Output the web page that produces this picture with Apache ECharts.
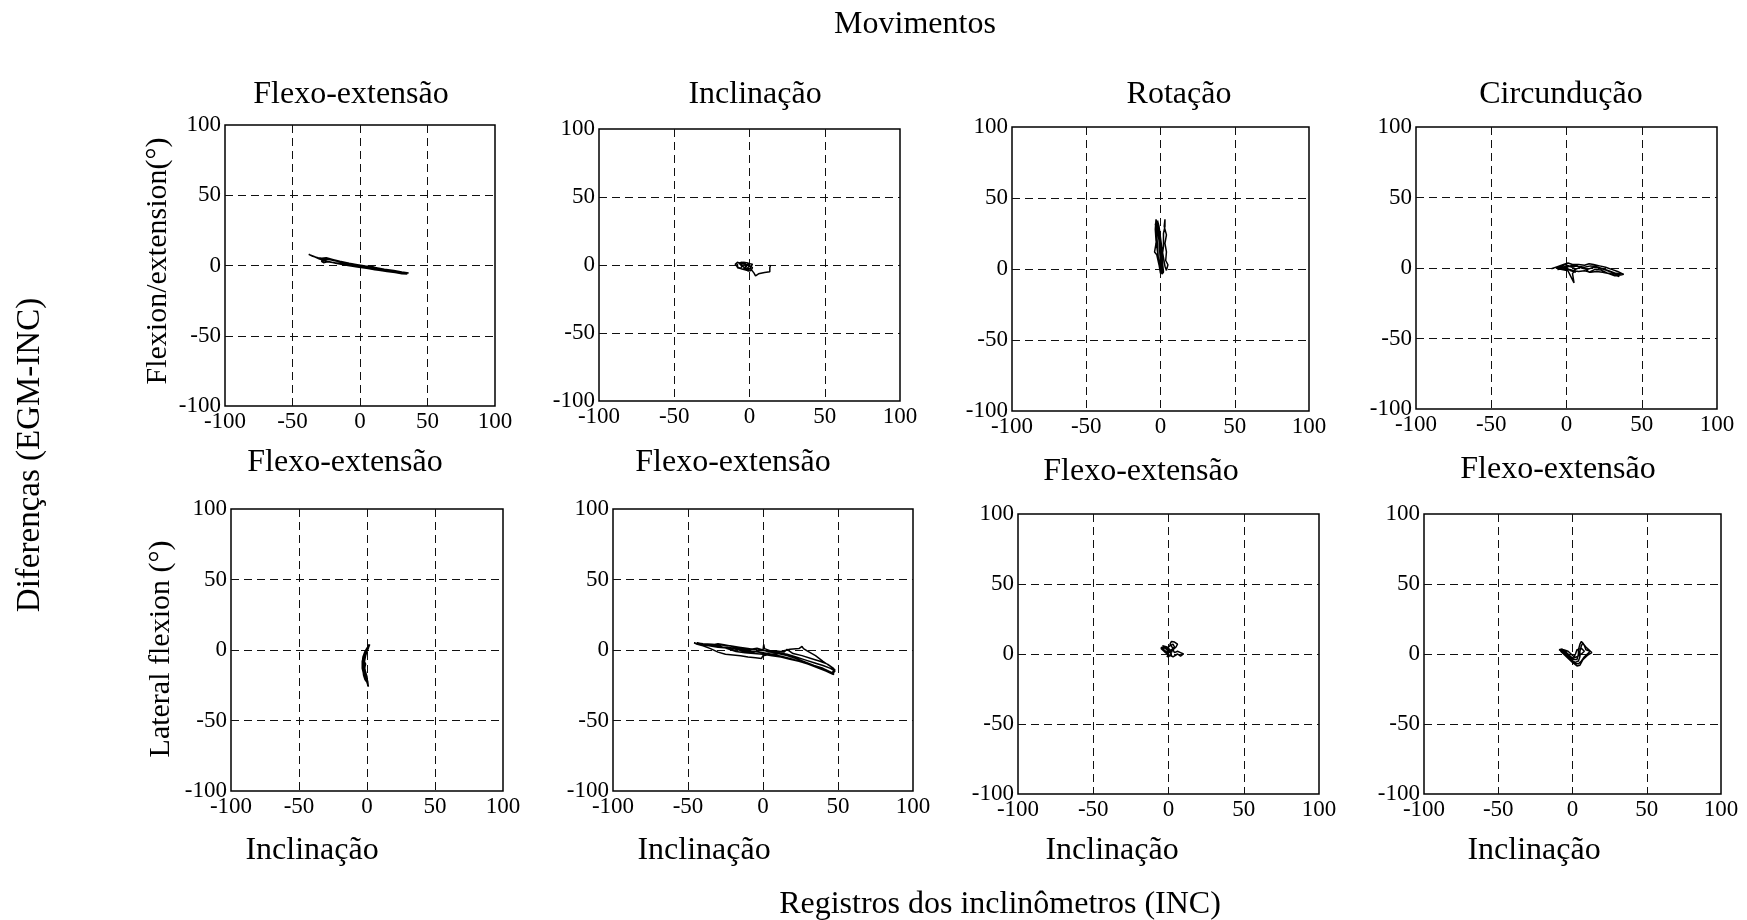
<!DOCTYPE html>
<html>
<head>
<meta charset="utf-8">
<script src="https://cdn.jsdelivr.net/npm/echarts@6/dist/echarts.min.js"></script>
<style>
html,body{margin:0;padding:0;background:#fff;}
#chart{width:1747px;height:920px;}
</style>
</head>
<body>
<div id="chart"></div>
<script>
// ---------- data ----------
const mainTitle = "Movimentos";
const columnTitles = ["Flexo-extensão", "Inclinação", "Rotação", "Circundução"];
const middleLabels = ["Flexo-extensão", "Flexo-extensão", "Flexo-extensão", "Flexo-extensão"];
const bottomLabels = ["Inclinação", "Inclinação", "Inclinação", "Inclinação"];
const rowLabels = ["Flexion/extension(°)", "Lateral flexion (°)"];
const leftTitle = "Diferenças (EGM-INC)";
const bottomTitle = "Registros dos inclinômetros (INC)";
const tickValues = [-100, -50, 0, 50, 100];

const p1 = [[-38,8],[-35,6.5],[-31,5.5],[-27,5],[-22,4],[-16,2.8],[-10,1.5],[-4,0.3],[0,-0.5],[5,-1.2],[10,-2],[16,-3],[22,-3.8],[28,-4.6],[33,-5.4],[35,-6],
[31,-5.8],[26,-5],[20,-4.2],[14,-3.3],[8,-2.4],[2,-1.6],[-4,-0.6],[-10,0.5],[-16,1.5],[-21,2.4],[-25,2.8],[-28,3.6],[-30,5],[-29,6],
[-25,5.6],[-19,4],[-13,2.5],[-7,1.2],[-1,0.2],[5,-0.8],[9,-0.6],[10,-1.5],[15,-2.6],[21,-3.4],[27,-4.2],[32,-5],[34,-5.6],
[29,-5.2],[23,-4.6],[17,-3.8],[11,-3],[5,-2],[-1,-1],[-7,0],[-13,1.2],[-19,2],[-24,2.6],[-27,2],[-28.5,3],[-27,4.5],
[-22,4.6],[-15,3],[-8,1.6],[-2,0.6],[4,-0.4],[11,-1.4],[18,-2.6],[25,-3.6],[31,-4.6],[36,-5.4],
[30,-5.4],[22,-4.4],[14,-3.2],[6,-2.2],[-2,-1],[-10,0.2],[-18,1.6],[-24,3],[-30,4.6],[-34,6.4],[-37,7.6]];

const p2 = [[-8,1],[-9,0],[-8,-2],[-6,-2.5],[-5,-1],[-7,1.5],[-5,2],[-3,1],[-2,-1],[-4,-3],[-2,-4],[0,-3],[1,-1],[2,0.5],[0,1],[-2,0],[-3,-2],[-1,-4.5],[1,-4],[2,-2],[0,-0.5],[-3,0.5],[-6,1],[-8,2],[-9.5,0.5],[-8,-1.5],[-5,-3],[-3,-3.5],[-1,-2],[0,0],[-1,1.5],[-4,2],[-6,0.5],[-4,-1.5],[-2,-2.5],[1,-3],[2,-4],[3,-6],[4,-8],[6,-6.5],[10,-5.5],[13.5,-5],[13.5,-2],[14,0]];

const p3 = [[0,-2],[-1,5],[-2,12],[-3,20],[-3.5,28],[-3,35],[-2,28],[-1,20],[-0.5,12],[0,5],[1,-1],[0,-3],[-1,3],[-2.5,10],[-4,12],[-3,18],[-2.5,26],[-2,34],[-1,27],[0,18],[1,10],[1.5,3],[2,-2],[1,-3.5],[0,0],[1,8],[2,16],[2,25],[3,30],[3,35],[2.5,30],[4,24],[3,18],[4,12],[3.5,6],[5,3],[4,-1],[3,2],[2,8],[1,14],[0,22],[-1,30],[-2,34],[-1.5,26],[-0.5,16],[0.5,6],[1,0],[2,-3],[0.5,-1],[-1.5,8],[-2,16],[-2.5,24],[-3.5,32]];

const p4 = [[-10,-0.5],[-6,1],[-2,2.5],[1,3.5],[4,2.5],[8,2.5],[12,2],[15,3],[18,2.5],[22,1.5],[26,0.5],[30,-1],[34,-2.5],[38,-4.5],[36,-5],[32,-5.5],[28,-4],[24,-3],[20,-2.5],[16,-3],[12,-2],[8,-2.5],[5,-2],[2,-1],[-2,-0.5],[-6,-1],[-3,0.5],[1,1.5],[5,0],[6,-3],[3,-2],[0,0],[-4,1],[-1,2.5],[3,1],[7,1.5],[10,0],[14,-1],[18,0.5],[22,0],[26,-1.5],[30,-3],[34,-4.5],[35,-6],[31,-4.5],[27,-3.5],[23,-1.5],[19,-1],[15,-3],[13,-1],[10,1],[6,-1],[4,-4],[5,-10.5],[1,-2],[-3,-1],[-7,0],[-4,0.8],[0,0.5],[4,2],[8,1],[12,0.5],[16,1.5],[20,1],[24,-0.5],[28,-2],[32,-3.5],[36,-4.5]];

const p5 = [[1,4],[2,3.5],[1,1],[-1,-2],[-2.5,-6],[-3,-10],[-3,-14],[-2.5,-18],[-1.5,-21],[0,-23],[1,-26],[0.5,-22],[-1,-19],[-2,-15],[-2.5,-11],[-2,-7],[-1,-3],[0,0],[1,3],[2,3.8],[0.5,2],[-1.5,-1],[-3,-5],[-3.5,-10],[-3,-15],[-2,-19],[-1,-21],[-2,-17],[-1.5,-12],[-1,-10],[-2,-8],[-1,-4],[0.5,0.5],[1.5,3],[0,1],[-2,-3],[-3.5,-8],[-3.5,-13],[-2.5,-17],[-1,-20],[0.5,-24],[0,-19],[-1.5,-14],[-2,-9],[-1,-4],[0,-1],[2,4]];

const p6 = [[-46,5],[-40,4],[-34,3.5],[-30,4.5],[-26,3.8],[-20,2.5],[-14,1],[-8,0.5],[-4,1.2],[0,0],[4,-1.5],[10,-2],[16,-3],[22,-5],[28,-7],[34,-9],[40,-11],[45,-13],[48,-15],[46,-17],[42,-14],[36,-12],[30,-10],[24,-8],[18,-6],[12,-4.5],[6,-3],[0,-2],[-6,-1],[-12,0],[-18,1],[-24,2],[-30,2.5],[-36,3.5],[-42,4],[-45,4.5],
[-40,3],[-35,1],[-30,-1.5],[-25,-3],[-20,-3.5],[-15,-4],[-10,-5],[-5,-5.5],[-1,-6],[0,-4],[5,-3],[10,-2.5],[16,-4],[22,-6],[28,-8.5],[34,-11],[40,-13],[46,-16],[48,-14],[44,-11],[40,-8],[35,-4],[30,-1],[27,1],[26,2.5],[24,1],[18,0.5],[12,-1],[6,-1],[1,1],[0.5,4],[0,0],[-6,-1.5],[-12,-1],[-18,0.5],[-24,1.5],[-30,2],[-36,3],[-42,4],[-46,5],
[-42,4.5],[-36,4],[-30,3],[-24,1],[-18,-1],[-12,-2],[-6,-2.5],[0,-3],[6,-4],[12,-5],[18,-6.5],[24,-8],[30,-10],[36,-12.5],[42,-15],[47,-17.5],[47,-13],[43,-10],[38,-8],[32,-6],[26,-4],[20,-2.5],[16,0.5],[14,-1.5],[8,-0.5],[2,-0.5],[-4,0],[-10,1],[-16,2],[-22,3],[-28,3.5],[-34,4],[-40,4.5],[-44,5]];

const p7 = [[-5,5],[-3,3],[-1,1],[0,-2],[1,-3],[2,0],[0,2],[-2,4],[-4,6],[-3,7],[-1,5],[1,3],[2,1],[3,4],[1,7],[2,9],[4,8.5],[6,7],[5,5],[3,3],[2,2],[4,1],[6,2],[8,1],[10,0],[11,-1],[8,-1.5],[6,0],[5,-1],[3,-2],[1,-1],[-1,0],[-3,2],[-5,4],[-3,5],[-1,3],[0,0],[-1,-2],[0,-3],[2,-1],[1,2],[-2,5],[-4,3],[-2,1],[0,1],[2,3],[4,5],[3,7],[1,6],[-1,4]];

const p8 = [[-8,3],[-6,1],[-4,-1],[-2,-3],[0,-5],[2,-6],[4,-5],[5,-2],[5,2],[6,6],[7,8],[8,6],[9,3],[12,2],[10,0],[8,-2],[6,-5],[4,-7],[2,-7],[0,-5],[-2,-2],[-4,0],[-7,2],[-9,3],[-7,3.5],[-5,2],[-3,0],[-1,-2],[1,-4],[3,-4],[4,0],[4,3],[5,7],[6,9],[7,8],[9,5],[11,3],[13,1],[10,-1],[7,-4],[5,-8],[3,-8.5],[0,-6],[-2,-4],[-5,-1],[-8,2],[-6,3],[-3,2],[-1,0],[1,-2],[2,0],[3,3],[6,4],[8,2],[6,0],[3,-2],[0,-3],[-3,-1],[-6,1.5],[-8,3]];

const panelData = [p1, p2, p3, p4, p5, p6, p7, p8];

// ---------- layout ----------
const gridBoxes = [
  {left:225, top:125, width:270, height:281},
  {left:599, top:129, width:301, height:272},
  {left:1012, top:127, width:297, height:284},
  {left:1416, top:127, width:301, height:282},
  {left:231, top:509, width:272, height:282},
  {left:613, top:509, width:300, height:282},
  {left:1018, top:514, width:301, height:280},
  {left:1424, top:514, width:297, height:280}
];
const FONT = "'Liberation Serif', 'Times New Roman', serif";
const titleSize = 32, rowLabelSize = 30, leftTitleSize = 33, tickSize = 23;
const colTitlePos = [[351,95],[755,95],[1179,95],[1561,95]];
const midPos = [[345,463],[733,463],[1141,472],[1558,470]];
const botPos = [[312,851],[704,851],[1112,851],[1534,851]];
const rowLabelPos = [[158,261],[161,649]];

function txt(s, x, y, size, rot) {
  return {type:'text', x:x, y:y, rotation: rot || 0, silent:true,
    style:{text:s, fontSize:size, fontFamily:FONT, fill:'#000',
      align:'center', verticalAlign:'middle', textAlign:'center', textVerticalAlign:'middle'}};
}

const graphics = [];
graphics.push(txt(mainTitle, 915, 25, titleSize));
columnTitles.forEach((t,i)=>graphics.push(txt(t, colTitlePos[i][0], colTitlePos[i][1], titleSize)));
middleLabels.forEach((t,i)=>graphics.push(txt(t, midPos[i][0], midPos[i][1], titleSize)));
bottomLabels.forEach((t,i)=>graphics.push(txt(t, botPos[i][0], botPos[i][1], titleSize)));
graphics.push(txt(bottomTitle, 1000, 905, titleSize));
graphics.push(txt(leftTitle, 30, 455, leftTitleSize, Math.PI/2));
rowLabels.forEach((t,i)=>graphics.push(txt(t, rowLabelPos[i][0], rowLabelPos[i][1], rowLabelSize, Math.PI/2)));

const splitStyle = {show:true, showMinLine:false, showMaxLine:false,
  lineStyle:{color:'#111', width:1, type:[8,5]}};
function axis(i) {
  return {type:'value', gridIndex:i, min:tickValues[0], max:tickValues[tickValues.length-1],
    interval:tickValues[1]-tickValues[0],
    axisLine:{show:false}, axisTick:{show:false},
    axisLabel:{fontFamily:FONT, fontSize:tickSize, color:'#000', margin:4, showMinLabel:true, showMaxLabel:true},
    splitLine:splitStyle};
}

const option = {
  animation:false,
  backgroundColor:'#fff',
  grid: gridBoxes.map(b=>Object.assign({show:true, borderColor:'#000', borderWidth:1.5, backgroundColor:'transparent'}, b)),
  xAxis: gridBoxes.map((b,i)=>axis(i)),
  yAxis: gridBoxes.map((b,i)=>axis(i)),
  series: panelData.map((d,i)=>({
    type:'line', xAxisIndex:i, yAxisIndex:i, data:d, showSymbol:false, symbol:'none',
    lineStyle:{color:'#000', width:1.5}, z:3
  })),
  graphic: graphics
};

const chart = echarts.init(document.getElementById('chart'), null, {renderer:'canvas'});
chart.setOption(option);
</script>
</body>
</html>
